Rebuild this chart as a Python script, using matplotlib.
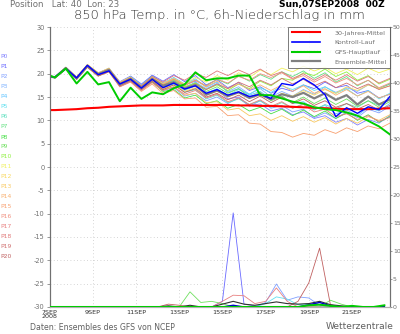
import numpy as np
import matplotlib
matplotlib.use("Agg")
import matplotlib.pyplot as plt
from matplotlib.lines import Line2D

plt.rcParams['axes.unicode_minus'] = False
plt.rcParams['font.family'] = ['DejaVu Sans']

# Zeitachse in Tagen ab 07SEP2008 00Z (Temperatur: 06Z/18Z, Niederschlag: 00Z/12Z)
t_temp = np.concatenate(([0.0], np.arange(0.25, 15.8, 0.5)))
t_rr = np.arange(0.0, 15.51, 0.5)

tick_days = [0, 2, 4, 6, 8, 10, 12, 14]
tick_labels = ['7SEP\n2008', '9SEP', '11SEP', '13SEP', '15SEP', '17SEP', '19SEP', '21SEP']

# 850 hPa Temperatur
klima = [12.2, 12.2, 12.3, 12.4, 12.6, 12.7, 12.9, 13.0, 13.1, 13.2, 13.2, 13.2, 13.3, 13.3, 13.3, 13.3, 13.3,
         13.3, 13.2, 13.2, 13.1, 13.1, 13.0, 12.9, 12.8, 12.7, 12.6, 12.5, 12.4, 12.4, 12.4, 12.5, 12.6]
mittel = [19.4, 19.2, 21.2, 19.0, 21.7, 19.9, 20.8, 17.7, 18.9, 17.0, 18.9, 17.4, 18.2, 16.8, 17.6, 15.5, 16.4,
          15.2, 16.0, 14.8, 15.6, 14.5, 15.6, 15.0, 15.9, 14.7, 15.8, 14.4, 15.4, 13.4, 15.1, 13.4, 14.5]
kontroll = [19.4, 19.3, 21.1, 19.1, 21.8, 19.8, 20.6, 17.8, 18.8, 16.9, 18.8, 17.0, 18.0, 16.7, 17.4, 15.8, 16.6,
            15.4, 16.1, 15.1, 15.6, 14.7, 17.9, 17.5, 19.0, 17.6, 15.5, 10.8, 12.7, 11.5, 12.9, 12.3, 15.1]
gfs = [19.6, 19.2, 21.1, 17.9, 20.4, 17.7, 18.2, 14.1, 17.0, 14.6, 16.0, 15.6, 16.9, 17.7, 20.3, 18.6, 19.0,
       19.0, 19.6, 19.6, 15.4, 15.4, 14.7, 14.0, 13.6, 12.8, 12.4, 12.2, 11.7, 11.0, 9.9, 8.7, 7.0]

members = [
    [19.5, 19.4, 21.4, 19.3, 21.9, 20.2, 21.1, 18.3, 19.5, 17.8, 19.6, 18.0, 19.0, 17.6, 18.4, 16.0, 16.5, 14.6, 15.0, 13.2, 13.5, 12.0, 12.6, 11.2, 11.8, 10.4, 11.0, 9.6, 10.4, 9.0, 10.2, 9.4, 11.0],
    [19.4, 19.1, 21.0, 19.1, 21.6, 20.0, 21.0, 18.0, 19.4, 17.6, 19.7, 18.4, 19.8, 18.3, 19.6, 17.6, 18.7, 17.0, 18.1, 16.4, 17.2, 15.8, 16.9, 16.2, 17.6, 16.8, 18.2, 17.0, 17.5, 15.8, 16.4, 14.8, 15.6],
    [19.4, 19.3, 21.3, 19.0, 21.8, 19.8, 20.6, 17.4, 18.5, 16.6, 18.4, 16.4, 17.0, 15.2, 15.8, 14.2, 15.0, 13.6, 14.8, 13.0, 14.2, 12.6, 13.2, 11.8, 12.4, 10.6, 11.6, 10.4, 11.8, 10.6, 12.4, 11.6, 13.0],
    [19.4, 19.2, 21.1, 18.9, 21.6, 19.7, 20.7, 17.6, 18.8, 16.9, 18.7, 17.3, 18.5, 17.0, 18.2, 16.8, 17.9, 16.2, 17.2, 15.6, 16.8, 15.0, 16.2, 15.2, 16.6, 15.6, 17.2, 16.0, 17.0, 16.2, 17.6, 16.8, 17.8],
    [19.3, 19.1, 21.2, 19.2, 21.9, 20.1, 21.2, 18.1, 19.4, 17.6, 19.5, 17.9, 19.2, 17.8, 18.9, 17.1, 18.2, 16.0, 16.8, 15.4, 16.2, 14.6, 15.2, 13.6, 14.0, 12.4, 13.2, 11.4, 12.2, 11.0, 12.8, 12.0, 13.6],
    [19.4, 19.3, 21.1, 19.0, 21.5, 19.6, 20.4, 17.3, 18.4, 16.6, 18.3, 16.9, 17.8, 16.4, 17.4, 15.8, 16.8, 15.4, 16.6, 15.6, 17.0, 16.0, 17.4, 16.6, 17.6, 16.4, 17.2, 15.8, 16.8, 15.2, 16.4, 14.6, 15.8],
    [19.4, 19.2, 21.3, 19.1, 21.7, 19.9, 20.9, 17.8, 19.0, 17.2, 19.0, 17.0, 17.9, 16.0, 16.6, 14.6, 15.4, 13.8, 14.6, 13.4, 14.2, 12.8, 13.8, 12.6, 13.6, 12.2, 13.4, 12.4, 13.6, 12.8, 14.2, 13.2, 14.4],
    [19.5, 19.3, 21.2, 19.0, 21.6, 19.8, 20.7, 17.6, 18.7, 16.8, 18.6, 17.6, 18.8, 17.6, 18.6, 17.4, 18.8, 17.8, 19.6, 18.4, 19.8, 18.8, 20.4, 19.4, 20.6, 19.0, 20.2, 18.2, 19.4, 17.4, 18.6, 16.8, 17.8],
    [19.4, 19.2, 21.2, 19.1, 21.8, 20.0, 20.9, 17.8, 18.9, 16.8, 18.2, 16.2, 16.6, 14.8, 15.4, 13.6, 14.2, 12.6, 13.4, 12.0, 12.8, 11.4, 12.4, 11.0, 12.2, 10.8, 12.0, 10.4, 11.6, 10.0, 11.2, 9.6, 10.8],
    [19.3, 19.1, 21.0, 18.8, 21.4, 19.5, 20.5, 17.5, 18.8, 17.1, 19.0, 17.6, 18.6, 17.0, 18.0, 16.2, 17.2, 15.8, 16.8, 15.0, 16.0, 14.2, 15.2, 13.8, 15.0, 13.6, 14.8, 13.4, 14.6, 13.0, 14.2, 12.8, 14.0],
    [19.4, 19.2, 21.1, 19.0, 21.7, 19.9, 20.8, 17.9, 19.2, 17.4, 19.4, 17.8, 18.8, 17.2, 18.0, 16.6, 17.6, 16.4, 17.8, 16.8, 18.4, 17.4, 19.0, 18.6, 20.2, 19.6, 21.0, 19.4, 20.4, 18.6, 19.6, 17.8, 18.8],
    [19.5, 19.3, 21.3, 19.2, 21.9, 20.1, 21.0, 18.0, 19.2, 17.4, 19.3, 17.9, 19.0, 17.8, 19.2, 18.2, 19.6, 18.6, 20.2, 19.2, 20.8, 19.8, 21.2, 20.4, 21.6, 20.6, 21.4, 20.0, 21.0, 19.8, 21.2, 20.2, 21.0],
    [19.4, 19.2, 21.2, 19.0, 21.6, 19.7, 20.6, 17.5, 18.6, 16.7, 18.5, 16.8, 17.6, 16.2, 17.0, 15.4, 16.2, 15.0, 16.0, 14.8, 15.8, 14.6, 15.8, 15.2, 16.4, 15.4, 16.6, 15.8, 17.2, 16.4, 17.6, 16.8, 17.4],
    [19.4, 19.3, 21.4, 19.3, 22.0, 20.2, 21.2, 18.2, 19.3, 17.3, 18.8, 16.6, 17.2, 15.4, 15.8, 13.8, 14.0, 12.2, 12.6, 11.0, 11.4, 10.0, 11.0, 9.8, 10.8, 9.6, 10.6, 9.2, 10.4, 9.4, 10.8, 10.0, 11.2],
    [19.4, 19.2, 21.2, 19.1, 21.7, 19.9, 20.8, 17.8, 19.1, 17.4, 19.2, 17.8, 18.9, 17.6, 18.6, 17.2, 18.4, 16.8, 17.8, 16.6, 17.6, 16.4, 17.6, 16.2, 17.4, 15.8, 16.8, 15.4, 16.6, 15.2, 16.2, 14.8, 15.6],
    [19.3, 19.1, 21.0, 18.8, 21.4, 19.5, 20.4, 17.2, 18.2, 16.2, 17.8, 15.8, 16.4, 14.6, 14.8, 12.8, 13.0, 11.0, 11.2, 9.4, 9.2, 7.6, 7.4, 6.4, 7.2, 6.8, 8.0, 7.2, 8.4, 7.6, 8.8, 8.2, 9.4],
    [19.4, 19.2, 21.2, 19.0, 21.7, 19.8, 20.8, 17.8, 19.0, 17.2, 19.1, 17.6, 18.8, 17.4, 18.6, 17.4, 18.8, 18.0, 19.4, 18.6, 20.0, 19.2, 20.2, 18.8, 19.6, 18.2, 19.4, 18.0, 19.0, 17.6, 18.6, 17.0, 18.0],
    [19.4, 19.3, 21.3, 19.1, 21.6, 19.6, 20.4, 17.2, 18.3, 16.4, 18.1, 16.4, 17.2, 15.6, 16.4, 14.8, 15.6, 14.0, 14.8, 13.4, 14.4, 13.0, 14.0, 12.6, 13.4, 11.8, 12.4, 10.8, 11.4, 10.2, 11.0, 9.8, 10.6],
    [19.4, 19.2, 21.1, 18.9, 21.5, 19.7, 20.7, 17.7, 19.0, 17.4, 19.4, 18.2, 19.6, 18.6, 20.0, 19.2, 20.6, 19.6, 20.8, 19.8, 21.0, 19.6, 20.4, 19.0, 20.0, 18.6, 19.8, 18.6, 19.8, 18.4, 19.4, 18.0, 19.0],
    [19.5, 19.3, 21.3, 19.2, 21.8, 20.0, 21.0, 18.0, 19.1, 17.2, 18.9, 17.2, 18.2, 16.8, 17.8, 16.6, 17.8, 16.8, 18.2, 17.2, 18.6, 17.6, 19.0, 17.8, 18.8, 17.4, 18.4, 17.0, 18.0, 16.8, 17.8, 16.6, 17.4],
    [19.4, 19.1, 21.0, 18.8, 21.4, 19.5, 20.5, 17.4, 18.5, 16.6, 18.4, 16.6, 17.6, 16.0, 16.8, 15.0, 15.8, 14.4, 15.4, 14.0, 15.2, 13.8, 15.0, 13.6, 14.6, 13.2, 14.2, 12.8, 13.6, 12.4, 13.4, 12.2, 13.2],
]
member_colors = ['#8080ff', '#6a6aff', '#80a0ff', '#80b4ff', '#60c4ff', '#60e0f0', '#60e0c0', '#60e080',
                 '#48e048', '#70e060', '#90f040', '#f0f060', '#f8d860', '#f8c860', '#f8b070', '#f8a070',
                 '#f09080', '#e88080', '#e07878', '#d07070', '#c06060']

# 6h-Niederschlag in mm (00Z/12Z)
gfs_rr = [0, 0, 0, 0, 0, 0, 0, 0, 0, 0, 0, 0, 0, 0, 0, 0, 0, 0, 0, 0, 0, 0, 0, 0, 0.3, 0.4, 0.2, 0, 0.2, 0, 0, 0.3]
kontroll_rr = [0, 0, 0, 0, 0, 0, 0, 0, 0, 0, 0, 0, 0, 0, 0, 0, 0, 0.3, 0, 0, 0, 0, 0, 0, 0.4, 0.8, 0.2, 0, 0, 0, 0, 0]
mittel_rr = [0, 0, 0, 0, 0, 0, 0, 0, 0, 0, 0, 0.2, 0, 0.3, 0, 0, 0.5, 1.0, 0.5, 0.3, 0.6, 0.9, 0.6, 0.5, 0.6, 1.0, 0.4, 0.2, 0, 0, 0, 0]
p1_rr = [0, 0, 0, 0, 0, 0, 0, 0, 0, 0, 0, 0, 0, 0, 0, 0, 1.0, 16.8, 0.5, 0.2, 0, 0, 0, 0, 0, 0, 0, 0, 0, 0, 0, 0]
p2_rr = [0, 0, 0, 0, 0, 0, 0, 0, 0, 0, 0, 0, 0, 0, 0, 0, 0, 0, 0, 0, 0.8, 4.1, 1.2, 1.8, 1.6, 0.3, 0, 0, 0, 0, 0, 0]
p5_rr = [0, 0, 0, 0, 0, 0, 0, 0, 0, 0, 0, 0, 0, 0, 0, 0, 0, 0, 0, 0, 0.6, 1.8, 1.4, 0.4, 0.6, 0, 0, 0, 0, 0, 0, 0]
p9_rr = [0, 0, 0, 0, 0, 0, 0, 0, 0, 0, 0, 0, 0, 2.7, 0.8, 1.0, 0.6, 0, 0, 0, 0, 0, 0, 0, 0, 0, 1.2, 0.5, 0, 0, 0, 0]
p17_rr = [0, 0, 0, 0, 0, 0, 0, 0, 0, 0, 0, 0, 0, 0, 0, 0, 1.0, 2.1, 2.0, 0.6, 1.0, 3.4, 1.0, 0, 0, 0, 0, 0, 0, 0, 0, 0]
p20_rr = [0, 0, 0, 0, 0, 0, 0, 0, 0, 0, 0, 0.5, 0.3, 0, 0, 0, 0, 0, 0, 0, 0, 0, 0, 1.0, 4.3, 10.5, 0.4, 0, 0, 0, 0, 0]
member_rr = {1: p1_rr, 2: p2_rr, 5: p5_rr, 9: p9_rr, 17: p17_rr, 20: p20_rr}

grau = '#707070'

fig = plt.figure(figsize=(4.0, 3.34), dpi=100, facecolor='white')
ax = fig.add_axes([0.124, 0.081, 0.8505, 0.838])
ax2 = ax.twinx()

# Temperaturen
for vals, col in zip(members, member_colors):
    ax.plot(t_temp, vals, color=col, lw=0.6, zorder=2)
ax.plot(t_temp, klima, color='#ff0000', lw=1.5, zorder=3)
ax.plot(t_temp, mittel, color='#808080', lw=1.6, zorder=4)
ax.plot(t_temp, kontroll, color='#0000ff', lw=1.0, zorder=5)
ax.plot(t_temp, gfs, color='#00cc00', lw=1.4, zorder=6)

# Niederschlag auf der rechten Achse
for i, rr in member_rr.items():
    ax2.plot(t_rr, rr, color=member_colors[i], lw=0.6, zorder=2)
ax2.plot(t_rr, mittel_rr, color='#303030', lw=0.8, zorder=3)
ax2.plot(t_rr, kontroll_rr, color='#0000cc', lw=1.0, zorder=4)
ax2.plot(t_rr, gfs_rr, color='#00cc00', lw=1.4, zorder=5)

ax.set_xlim(0, 15.75)
ax.set_ylim(-30, 30)
ax2.set_ylim(0, 50)
ax.set_yticks(np.arange(-30, 31, 5))
ax2.set_yticks(np.arange(0, 51, 5))
ax.set_xticks(tick_days)
ax.set_xticklabels(tick_labels)

ax.grid(True, color='#c8c8c8', linestyle=(0, (1, 3)), lw=0.6)
ax.set_axisbelow(True)

for a in (ax, ax2):
    a.spines['top'].set_visible(False)
    a.spines['left'].set_color(grau)
    a.spines['right'].set_color(grau)
    a.spines['bottom'].set_color('#b0b0b0')
    a.spines['left'].set_linewidth(0.8)
    a.spines['right'].set_linewidth(0.8)
ax.tick_params(axis='y', labelsize=4.8, colors=grau, length=2, width=0.5, pad=1.5)
ax.tick_params(axis='x', labelsize=4.6, colors='#303030', length=0, pad=2)
ax2.tick_params(axis='y', labelsize=4.5, colors=grau, length=1.5, width=0.5, pad=0.8)
for lab in ax.get_xticklabels():
    lab.set_linespacing(0.9)

handles = [Line2D([], [], color='#ff0000', lw=1.5),
           Line2D([], [], color='#0000ff', lw=1.2),
           Line2D([], [], color='#00cc00', lw=1.5),
           Line2D([], [], color='#808080', lw=1.6)]
names = ['30-Jahres-Mittel', 'Kontroll-Lauf', 'GFS-Hauptlauf', 'Ensemble-Mittel']
leg = ax2.legend(handles, names, loc='upper right', fontsize=4.6, frameon=True, fancybox=False,
                 borderaxespad=0, handlelength=4.5, handletextpad=2.2, labelspacing=0.65,
                 borderpad=0.5, labelcolor=grau)
leg.get_frame().set_edgecolor('#404040')
leg.get_frame().set_linewidth(0.6)
leg.set_zorder(10)

# Kopfzeile
fig.text(0.025, 0.9865, 'Position   Lat: 40  Lon: 23', fontsize=6.2, color=grau, va='center', ha='left')
fig.text(0.962, 0.9865, 'Sun,07SEP2008  00Z', fontsize=6.6, color='black', fontweight='bold',
         va='center', ha='right')
fig.text(0.548, 0.954, '850 hPa Temp. in °C, 6h-Niederschlag in mm', fontsize=9.4, color='#303030',
         fontweight='light', ha='center', va='center')

# Farbschlüssel der Ensemble-Läufe
for i, col in enumerate(member_colors):
    fig.text(0.002, 1 - (57 + 10 * i) / 334, f'P{i}', fontsize=4.3, color=col, va='center', ha='left')

# Fußzeile
fig.text(0.075, 0.018, 'Daten: Ensembles des GFS von NCEP', fontsize=5.6, color='#606060',
         ha='left', va='center')
fig.text(0.985, 0.022, 'Wetterzentrale', fontsize=6.5, color='#606060', ha='right', va='center')

fig.savefig('out.png', dpi=100, facecolor='white')
